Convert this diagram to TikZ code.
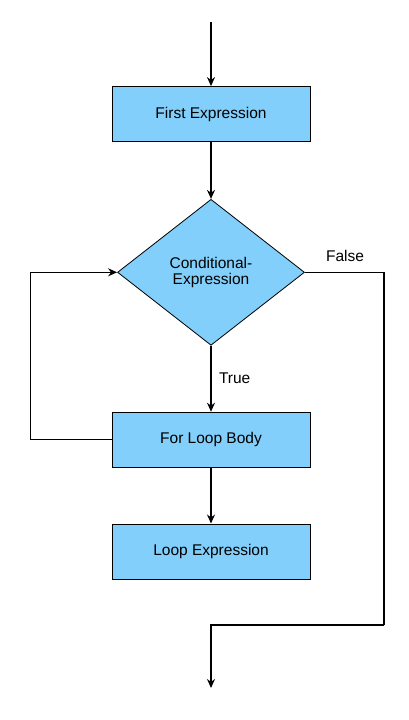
\documentclass[tikz,border=0pt]{standalone}
\usepackage{fontspec}
\setmainfont{Liberation Sans}
\usetikzlibrary{positioning}
\usetikzlibrary{shapes.geometric, arrows.meta}

\definecolor{boxblue}{RGB}{129,207,250}

\begin{document}
\begin{tikzpicture}[
  x=1pt, y=1pt,
  font=\fontsize{15.5}{16.5}\selectfont,
  block/.style={rectangle, draw, thick, fill=boxblue, minimum width=198pt, minimum height=55pt, align=center},
  decision/.style={diamond, draw, thick, fill=boxblue, minimum width=187pt, minimum height=146pt, aspect=1.28, inner sep=0pt, align=center},
  arrow/.style={-{Stealth[length=9pt, width=8pt]}, line width=1.4pt},
  line/.style={line width=1.4pt}
]
  \useasboundingbox (0,0) rectangle (409,-720);

  \coordinate (start) at (211,-22);
  \node[block] (first) at (211,-114) {First Expression};
  \node[decision, below=57pt of first] (cond) {Conditional-\\Expression};
  \node[block, below=66pt of cond] (body) {For Loop Body};
  \node[block, below=56pt of body] (loopexpr) {Loop Expression};
  \coordinate (turn) at (384,-625);
  \coordinate (stop) at (211,-688);

  \draw[arrow] (start) -- (first);
  \draw[arrow] (first) -- (cond);
  \draw[arrow] (cond) -- node[right=4pt] {True} (body);
  \draw[arrow] (body) -- (loopexpr);
  \draw[arrow] (body.west) -- ++(-81,0) |- (cond.west);
  \draw[line] (cond.east) -| (turn);
  \draw[arrow] (turn) -| (stop);

  \node (false) at (345,-256) {False};
\end{tikzpicture}
\end{document}
